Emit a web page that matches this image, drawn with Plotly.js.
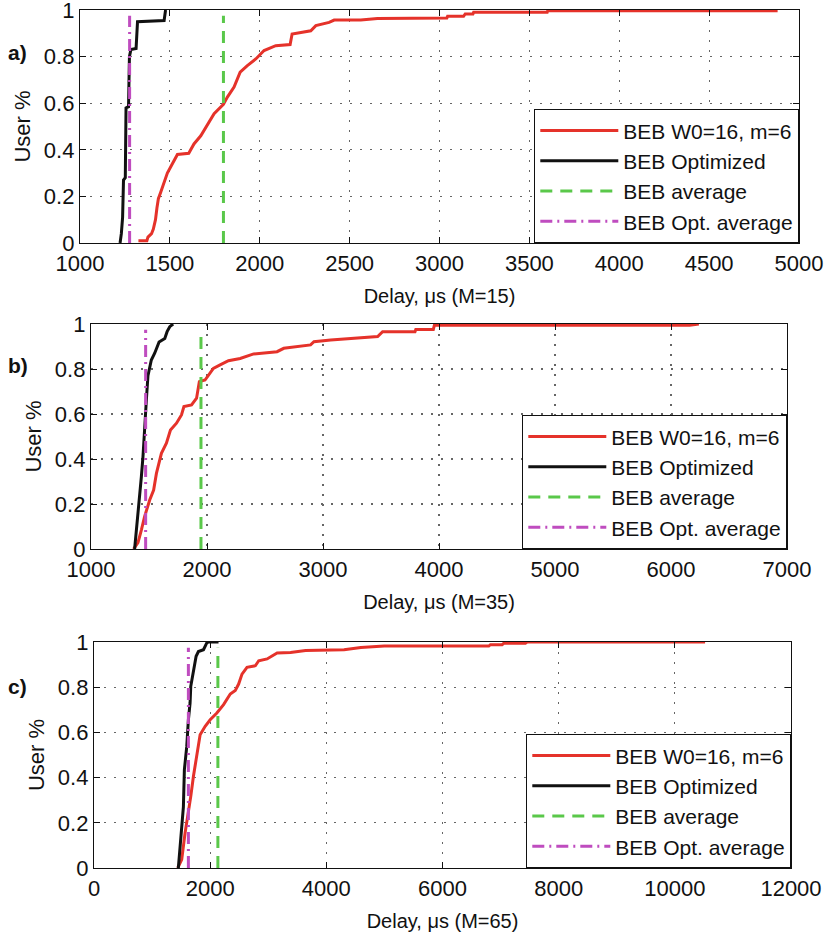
<!DOCTYPE html>
<html>
<head>
<meta charset="utf-8">
<script src="https://cdn.plot.ly/plotly-3.0.1.min.js"></script>
<style>html,body{margin:0;padding:0;background:#fff;}#chart{width:827px;height:935px;}</style>
</head>
<body>
<div id="chart"></div>
<script>
// ---------- DATA ----------
const seriesNames = ["BEB W0=16, m=6", "BEB Optimized", "BEB average", "BEB Opt. average"];
const xTitles = ["Delay, μs (M=15)", "Delay, μs (M=35)", "Delay, μs (M=65)"];
const panelLabels = ["a)", "b)", "c)"];
const avgSpanY = [0, 0.975];

// Panel a (M=15)
const aRedX = [1325,1372,1378,1398,1408,1420,1428,1436,1450,1462,1486,1514,1542,1605,1634,1672,1709,1746,1798,1820,1857,1891,1931,1978,2024,2089,2169,2180,2284,2312,2386,2414,2562,2655,3041,3045,3134,3143,3186,3190,3599,3602,4881];
const aRedY = [0.01,0.01,0.025,0.04,0.06,0.10,0.15,0.19,0.22,0.25,0.30,0.34,0.38,0.385,0.425,0.46,0.51,0.555,0.595,0.626,0.669,0.733,0.761,0.79,0.826,0.847,0.852,0.897,0.911,0.933,0.947,0.957,0.957,0.964,0.966,0.973,0.973,0.983,0.983,0.99,0.99,0.997,0.997];
const aBlkX = [1223,1230,1237,1242,1252,1256,1270,1275,1283,1312,1320,1468,1476];
const aBlkY = [0,0.04,0.11,0.27,0.28,0.58,0.585,0.80,0.83,0.835,0.95,0.955,1.0];
const aAvg = 1798, aOptAvg = 1276;

// Panel b (M=35)
const bRedX = [1367,1380,1405,1434,1462,1506,1540,1564,1607,1650,1685,1737,1780,1801,1867,1910,1934,1983,2012,2055,2113,2185,2286,2402,2604,2662,2893,2922,3066,3240,3471,3514,3793,3800,3951,3960,6160,6240];
const bRedY = [0,0.01,0.028,0.084,0.144,0.218,0.262,0.336,0.425,0.47,0.529,0.559,0.596,0.633,0.64,0.67,0.744,0.751,0.773,0.803,0.818,0.837,0.847,0.867,0.877,0.892,0.907,0.921,0.929,0.936,0.944,0.966,0.966,0.976,0.976,0.994,0.994,1.0];
const bBlkX = [1376,1390,1413,1434,1448,1462,1477,1491,1520,1549,1587,1636,1656,1679,1708];
const bBlkY = [0,0.07,0.19,0.32,0.41,0.51,0.66,0.77,0.84,0.87,0.92,0.936,0.966,0.988,1.0];
const bAvg = 1948, bOptAvg = 1471;

// Panel c (M=65)
const cRedX = [1441,1510,1568,1625,1666,1712,1769,1827,1914,2000,2115,2231,2346,2432,2490,2548,2634,2778,2836,2980,3153,3383,3643,4305,4594,4997,6797,6825,7026,7054,7427,7456,10521];
const cRedY = [0,0.037,0.155,0.243,0.317,0.406,0.494,0.59,0.627,0.656,0.686,0.723,0.77,0.785,0.814,0.858,0.888,0.895,0.917,0.925,0.951,0.954,0.962,0.966,0.976,0.982,0.982,0.988,0.988,0.994,0.994,1.0,1.0];
const cBlkX = [1452,1481,1510,1539,1556,1597,1625,1654,1666,1712,1758,1798,1885,1942,1971,2144];
const cBlkY = [0,0.08,0.17,0.27,0.435,0.538,0.656,0.73,0.804,0.863,0.937,0.958,0.966,0.996,1.0,1.0];
const cAvg = 2133, cOptAvg = 1625;

const xRanges = [[1000,5000],[1000,7000],[0,12000]];
const xDticks = [500,1000,2000];

// ---------- STYLE ----------
const W = 827, H = 935;
const FONT = "Liberation Sans, Arial, Helvetica, sans-serif";
const RED = "#e5322a", BLACK = "#111111", GREEN = "#5ac84a", MAG = "#bf4cbf";
// plot boxes in pixels [left, right, top, bottom]
const boxes = [[80,799,10,243],[91,787,324,549],[94,791,642,868]];

const panels = [
  {rx:aRedX, ry:aRedY, bx:aBlkX, by:aBlkY, avg:aAvg, oavg:aOptAvg},
  {rx:bRedX, ry:bRedY, bx:bBlkX, by:bBlkY, avg:bAvg, oavg:bOptAvg},
  {rx:cRedX, ry:cRedY, bx:cBlkX, by:cBlkY, avg:cAvg, oavg:cOptAvg}
];

const traces = [];
const layout = {
  width: W, height: H,
  margin: {l:0, r:0, t:0, b:0},
  paper_bgcolor: "#fff", plot_bgcolor: "#fff",
  font: {family: FONT, color: "#111"},
  showlegend: true,
  annotations: []
};

panels.forEach((p, i) => {
  const k = i + 1;
  const xa = "x" + (k === 1 ? "" : k), ya = "y" + (k === 1 ? "" : k);
  const lg = k === 1 ? "legend" : "legend" + k;
  traces.push({x: p.rx, y: p.ry, xaxis: xa, yaxis: ya, legend: lg, type: "scatter", mode: "lines",
    name: seriesNames[0], line: {color: RED, width: 3}});
  traces.push({x: p.bx, y: p.by, xaxis: xa, yaxis: ya, legend: lg, type: "scatter", mode: "lines",
    name: seriesNames[1], line: {color: BLACK, width: 3}});
  traces.push({x: [p.avg, p.avg], y: avgSpanY, xaxis: xa, yaxis: ya, legend: lg, type: "scatter", mode: "lines",
    name: seriesNames[2], line: {color: GREEN, width: 3, dash: "12px,8px"}});
  traces.push({x: [p.oavg, p.oavg], y: avgSpanY, xaxis: xa, yaxis: ya, legend: lg, type: "scatter", mode: "lines",
    name: seriesNames[3], line: {color: MAG, width: 3, dash: "12px,5px,2px,5px"}});

  const b = boxes[i];
  const xd = [b[0]/W, b[1]/W], yd = [1 - b[3]/H, 1 - b[2]/H];
  const axCommon = {
    showline: true, linecolor: "#111", linewidth: 1.2, mirror: "ticks",
    ticks: "inside", ticklen: 6, tickcolor: "#111", tickwidth: 1,
    showgrid: true, gridcolor: "#666", griddash: "1.5px,8.5px", gridwidth: 1.2,
    zeroline: false, tickfont: {family: FONT, size: 22, color: "#111"},
    ticklabeloverflow: "allow"
  };
  layout["xaxis" + (k === 1 ? "" : k)] = Object.assign({}, axCommon, {
    domain: xd, anchor: ya, range: xRanges[i], dtick: xDticks[i], tick0: 0, tickformat: "d",
    title: {text: xTitles[i], font: {family: FONT, size: 20, color: "#111"}, standoff: 14}
  });
  layout["yaxis" + (k === 1 ? "" : k)] = Object.assign({}, axCommon, {
    domain: yd, anchor: xa, range: [0, 1], dtick: 0.2, tick0: 0,
    title: {text: "User %", font: {family: FONT, size: 22, color: "#111"}, standoff: 7}
  });
  layout[lg] = {
    x: b[1]/W, xanchor: "right", y: 1 - b[3]/H, yanchor: "bottom",
    bgcolor: "#fff", bordercolor: "#111", borderwidth: 1.3,
    font: {family: FONT, size: 21, color: "#111"},
    itemwidth: 78, tracegroupgap: 0
  };
  layout.annotations.push({
    text: "<b>" + panelLabels[i] + "</b>", xref: "paper", yref: "paper",
    x: 6/W, y: 1 - [53, 366, 686][i]/H, xanchor: "left", yanchor: "middle",
    showarrow: false, font: {family: FONT, size: 21, color: "#111"}
  });
});

Plotly.newPlot("chart", traces, layout, {staticPlot: true, displayModeBar: false});
</script>
</body>
</html>
